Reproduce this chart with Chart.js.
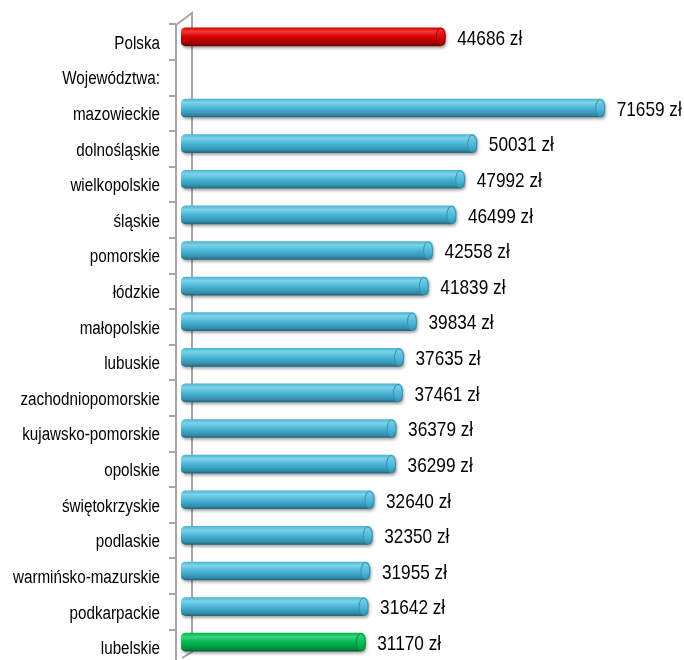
<!DOCTYPE html>
<html>
<head>
<meta charset="utf-8">
<script src="https://cdn.jsdelivr.net/npm/chart.js@4.4.1/dist/chart.umd.min.js"></script>
<style>
html, body { margin: 0; padding: 0; background: #fff; }
#wrap { width: 684px; height: 660px; }
</style>
</head>
<body>
<div id="wrap"><canvas id="chart"></canvas></div>
<script>
const categories = ['Polska', 'Województwa:', 'mazowieckie', 'dolnośląskie', 'wielkopolskie', 'śląskie',
    'pomorskie', 'łódzkie', 'małopolskie', 'lubuskie', 'zachodniopomorskie', 'kujawsko-pomorskie',
    'opolskie', 'świętokrzyskie', 'podlaskie', 'warmińsko-mazurskie', 'podkarpackie', 'lubelskie'];
const values = [44686, null, 71659, 50031, 47992, 46499, 42558, 41839, 39834, 37635, 37461, 36379,
    36299, 32640, 32350, 31955, 31642, 31170];
const unit = 'zł';

// no narrow font installed, so Liberation Sans gets squeezed horizontally
const family = "'Liberation Sans', Arial, sans-serif";

// top, middle, bottom, edge
const palettes = {
    red:   ['#f03a3a', '#d80000', '#a00000', '#6e0000'],
    blue:  ['#7fd2ea', '#4ab6d7', '#3490ae', '#22687e'],
    green: ['#3ad67a', '#00b74f', '#00913c', '#005f27']
};

function kindFor(i) {
    if (i === 0) return 'red';
    if (i === categories.length - 1) return 'green';
    return 'blue';
}

const barHalf = 9;

function barFill(context) {
    const chart = context.chart;
    if (!chart.chartArea || context.dataIndex === undefined) return '#4ab6d7';
    const p = palettes[kindFor(context.dataIndex)];
    const y = chart.scales.y.getPixelForValue(context.dataIndex);
    const g = chart.ctx.createLinearGradient(0, y - barHalf, 0, y + barHalf);
    g.addColorStop(0, p[1]);
    g.addColorStop(0.2, p[0]);
    g.addColorStop(0.5, p[1]);
    g.addColorStop(0.85, p[2]);
    g.addColorStop(1, p[3]);
    return g;
}

function narrowText(ctx, text, x, y, size, squeeze, align) {
    ctx.save();
    ctx.font = size + 'px ' + family;
    ctx.textAlign = align;
    ctx.textBaseline = 'middle';
    ctx.fillStyle = '#000';
    ctx.translate(x, y);
    ctx.scale(squeeze, 1);
    ctx.fillText(text, 0, 0);
    ctx.restore();
}

// 3D wall: back line, front line with ticks, category labels
const wallPlugin = {
    id: 'wall',
    beforeDatasetsDraw(chart) {
        const { ctx, chartArea } = chart;
        const L = chartArea.left;
        const top = chartArea.top;
        const step = (chartArea.bottom - chartArea.top) / categories.length;
        const fx = L - 5, bx = L + 11;
        ctx.save();
        ctx.strokeStyle = '#a6a6a6';
        ctx.lineWidth = 2;
        ctx.beginPath();
        ctx.moveTo(fx, top + 6);
        ctx.lineTo(bx, top - 6);
        ctx.lineTo(bx, 652);
        ctx.lineTo(L + 1, 658);
        ctx.moveTo(fx, top + 5);
        ctx.lineTo(fx, 660);
        for (let i = 0; i < categories.length; i++) {
            const ty = Math.round(top + 5.3 + i * step);
            ctx.moveTo(fx - 7, ty);
            ctx.lineTo(fx, ty);
        }
        ctx.stroke();
        ctx.restore();

        categories.forEach((c, i) => {
            const y = chart.scales.y.getPixelForValue(i);
            narrowText(ctx, c, L - 21, y + 7, 18, 0.845, 'right');
        });
    }
};

// shadows, end caps and value labels
const barDecor = {
    id: 'barDecor',
    beforeDatasetDraw(chart) {
        const ctx = chart.ctx;
        ctx.save();
        ctx.shadowColor = 'rgba(0,0,0,0.35)';
        ctx.shadowBlur = 3;
        ctx.shadowOffsetX = 1;
        ctx.shadowOffsetY = 2;
    },
    afterDatasetDraw(chart) {
        chart.ctx.restore();
    },
    afterDatasetsDraw(chart) {
        const ctx = chart.ctx;
        const meta = chart.getDatasetMeta(0);
        meta.data.forEach((bar, i) => {
            const v = values[i];
            if (v === null) return;
            const p = palettes[kindFor(i)];
            const cx = bar.x - 4.5;
            ctx.save();
            const g = ctx.createLinearGradient(0, bar.y - barHalf, 0, bar.y + barHalf);
            g.addColorStop(0, p[0]);
            g.addColorStop(0.6, p[1]);
            g.addColorStop(1, p[2]);
            ctx.beginPath();
            ctx.ellipse(cx, bar.y, 4.5, barHalf - 0.5, 0, 0, Math.PI * 2);
            ctx.fillStyle = g;
            ctx.fill();
            ctx.lineWidth = 1;
            ctx.strokeStyle = p[2];
            ctx.stroke();
            ctx.restore();

            narrowText(ctx, v + ' ' + unit, bar.x + 12, bar.y + 2, 21, 0.82, 'left');
        });
    }
};

new Chart(document.getElementById('chart'), {
    type: 'bar',
    data: {
        labels: categories,
        datasets: [{
            data: values,
            backgroundColor: barFill,
            borderWidth: 0,
            borderSkipped: false,
            borderRadius: 5,
            barThickness: barHalf * 2
        }]
    },
    options: {
        indexAxis: 'y',
        responsive: true,
        maintainAspectRatio: false,
        animation: false,
        layout: { padding: { top: 19, right: 30, bottom: 0, left: 0 } },
        plugins: {
            legend: { display: false },
            tooltip: { enabled: false }
        },
        scales: {
            x: {
                display: false,
                min: 0,
                max: 80000
            },
            y: {
                afterFit: scale => { scale.width = 181; },
                grid: { display: false, drawTicks: false },
                border: { display: false },
                ticks: { display: false }
            }
        }
    },
    plugins: [wallPlugin, barDecor]
});
</script>
</body>
</html>
